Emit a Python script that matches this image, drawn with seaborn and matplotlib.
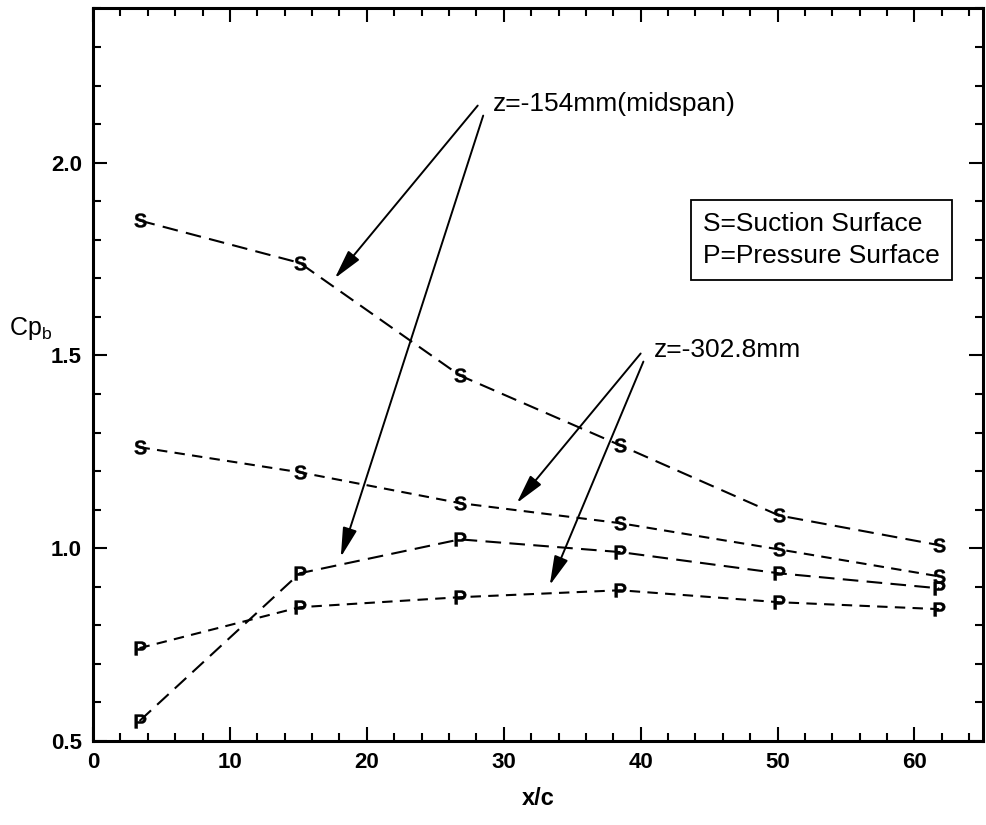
import matplotlib
matplotlib.use("Agg")
import matplotlib.pyplot as plt
import seaborn as sns
from matplotlib.ticker import MultipleLocator, FixedLocator, FormatStrFormatter

# Base pressure coefficient along the trailing edge
x_c = [3.4, 15.1, 26.8, 38.5, 50.1, 61.8]
mid_suction = [1.85, 1.74, 1.448, 1.267, 1.085, 1.008]
mid_pressure = [0.552, 0.935, 1.023, 0.99, 0.935, 0.896]
z302_suction = [1.262, 1.197, 1.117, 1.065, 0.997, 0.927]
z302_pressure = [0.741, 0.847, 0.873, 0.891, 0.86, 0.842]

x_ticks = [0, 10, 20, 30, 40, 50, 60]
y_ticks = [0.5, 1.0, 1.5, 2.0]

sns.set_theme(style="ticks")
plt.rcParams['font.family'] = ['Liberation Sans', 'DejaVu Sans']
plt.rcParams['mathtext.fontset'] = 'custom'
plt.rcParams['mathtext.rm'] = 'Liberation Sans'
plt.rcParams['mathtext.sf'] = 'Liberation Sans'
plt.rcParams['mathtext.bf'] = 'Liberation Sans:bold'
for key in ('text.color', 'axes.labelcolor', 'xtick.color', 'ytick.color',
            'xtick.labelcolor', 'ytick.labelcolor', 'axes.edgecolor'):
    plt.rcParams[key] = 'black'

fig = plt.figure(figsize=(9.87, 8.25), dpi=100)
ax = fig.add_axes([0.0942, 0.1018, 0.9017, 0.888])

long_dash = (0, (7.5, 4.0))
short_dash = (0, (5.0, 3.5))
S_mark = r'$\mathbf{S}$'
P_mark = r'$\mathbf{P}$'

series = [
    (mid_suction, long_dash, S_mark),
    (mid_pressure, long_dash, P_mark),
    (z302_suction, short_dash, S_mark),
    (z302_pressure, short_dash, P_mark),
]
for values, ls, mk in series:
    sns.lineplot(x=x_c, y=values, ax=ax, color='black', lw=1.5,
                 linestyle=ls, marker=mk, markersize=10,
                 markerfacecolor='black', markeredgecolor='black',
                 markeredgewidth=0.3, sort=False)

ax.set_xlim(0, 65)
ax.set_ylim(0.5, 2.4)
ax.xaxis.set_major_locator(FixedLocator(x_ticks))
ax.xaxis.set_minor_locator(MultipleLocator(2))
ax.yaxis.set_major_locator(FixedLocator(y_ticks))
ax.yaxis.set_minor_locator(MultipleLocator(0.1))
ax.yaxis.set_major_formatter(FormatStrFormatter('%.1f'))

ax.tick_params(which='both', direction='in', top=True, right=True,
               width=1.5, color='black', labelcolor='black',
               labelsize=16, pad=8)
ax.tick_params(which='major', length=10)
ax.tick_params(which='minor', length=6)
for lab in ax.get_xticklabels() + ax.get_yticklabels():
    lab.set_fontweight('bold')

for sp in ax.spines.values():
    sp.set_linewidth(2.2)
    sp.set_color('black')

ax.set_xlabel('x/c', fontsize=17, fontweight='bold', labelpad=10,
              color='black')
ax.set_ylabel(r'Cp$_{\mathrm{b}}$', fontsize=18, rotation=0,
              ha='center', va='center', color='black')
ax.yaxis.set_label_coords(-0.07, 0.563)

arrow_kw = dict(arrowstyle='-|>,head_length=0.9,head_width=0.22',
                color='black', lw=1.4, shrinkA=0, shrinkB=0,
                mutation_scale=20)

# midspan annotation
ax.text(29.2, 2.153, 'z=-154mm(midspan)', fontsize=19, ha='left',
        va='center', color='black')
ax.annotate('', xy=(17.66, 1.70), xytext=(28.1, 2.148), arrowprops=arrow_kw)
ax.annotate('', xy=(18.1, 0.977), xytext=(28.5, 2.122), arrowprops=arrow_kw)

# z = -302.8 mm annotation
ax.text(41.0, 1.513, 'z=-302.8mm', fontsize=19, ha='left', va='center',
        color='black')
ax.annotate('', xy=(30.95, 1.117), xytext=(40.0, 1.505), arrowprops=arrow_kw)
ax.annotate('', xy=(33.36, 0.904), xytext=(40.2, 1.484), arrowprops=arrow_kw)

# key for the letter symbols
ax.text(53.2, 1.799, 'S=Suction Surface\nP=Pressure Surface', fontsize=19,
        ha='center', va='center', multialignment='left', linespacing=1.45,
        color='black',
        bbox=dict(boxstyle='square,pad=0.45', fc='white', ec='black', lw=1.3))

fig.savefig('out.png', dpi=100, facecolor='white')
